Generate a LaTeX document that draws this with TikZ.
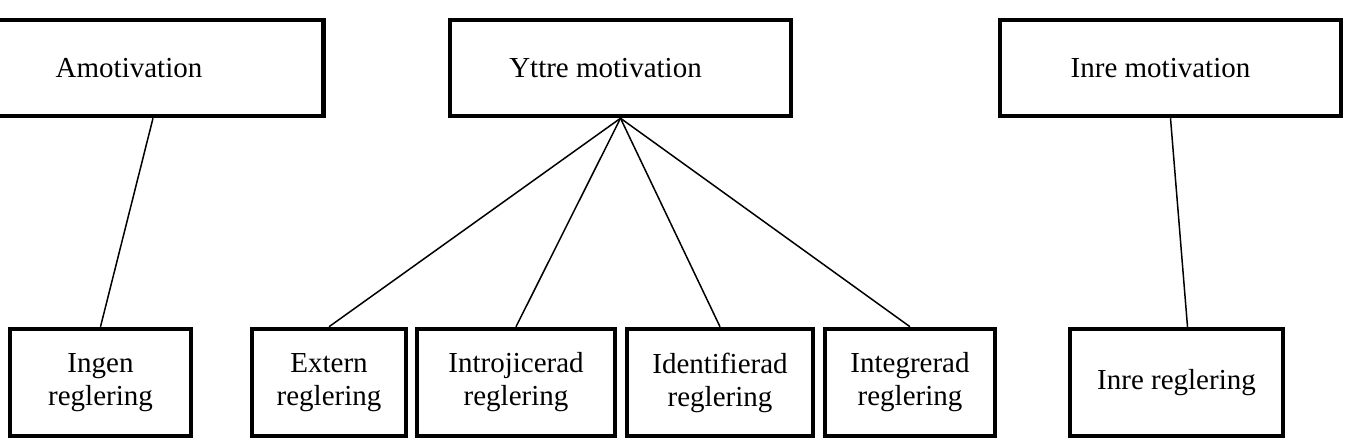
\documentclass[tikz,border=0pt]{standalone}
\usepackage{fontspec}
\setmainfont{Liberation Serif}

\begin{document}
\begin{tikzpicture}[
    x=1pt, y=-1pt,
    % main motivation boxes (top row)
    topbox/.style={
        draw, line width=4.5pt,
        minimum width=341pt, minimum height=96pt,
        align=center, font=\fontsize{29}{33}\selectfont
    },
    % regulation boxes (bottom row)
    subbox/.style={
        draw, line width=4.5pt, minimum height=107pt,
        align=center, font=\fontsize{29}{33}\selectfont
    },
    link/.style={line width=1.5pt},
]
    \useasboundingbox (0,0) rectangle (1348,447);

    % top row (text sits a bit left of centre)
    \node[topbox] (amot) at (153,68) {Amotivation\hspace*{48pt}};
    \node[topbox] (yttre) at (620.5,68) {Yttre motivation\hspace*{30pt}};
    \node[topbox] (inre) at (1170.5,68) {Inre motivation\hspace*{20pt}};

    % bottom row
    \node[subbox, minimum width=181pt] (ingen) at (100.5,382.5) {Ingen\\reglering};
    \node[subbox, minimum width=154pt] (extern) at (329,382.5) {Extern\\reglering};
    \node[subbox, minimum width=198pt] (introj) at (516,382.5) {Introjicerad\\reglering};
    \node[subbox, minimum width=186pt] (ident) at (720,382.5) {Identifierad\\reglering};
    \node[subbox, minimum width=170pt] (integr) at (910,382.5) {Integrerad\\reglering};
    \node[subbox, minimum width=213pt] (inrereg) at (1176.5,382.5) {Inre reglering};

    % connectors
    \draw[link] (amot.south) -- (ingen.north);
    \foreach \sub in {extern, introj, ident, integr}
      \draw[link] (yttre.south) -- (\sub.north);
    \draw[link] (inre.south) -- ([xshift=11pt]inrereg.north);
\end{tikzpicture}
\end{document}
